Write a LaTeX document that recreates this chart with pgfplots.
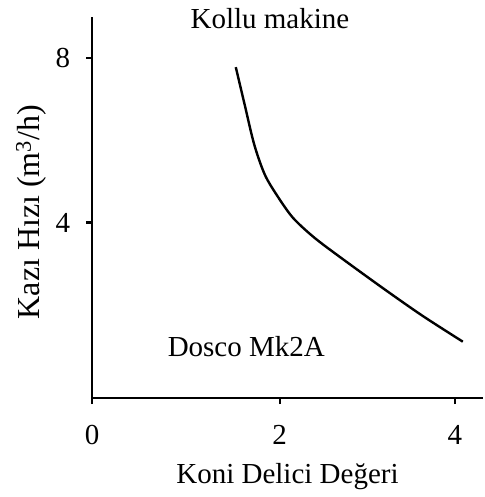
\documentclass[border=0pt]{standalone}
\usepackage{pgfplots}
\pgfplotsset{compat=1.18}
\usepackage{fontspec}
\setmainfont{Liberation Serif}
\begin{document}
\begin{tikzpicture}
\begin{axis}[
  name=ax,
  scale only axis,
  width=391pt, height=381pt,
  xmin=-0.14, xmax=4.32,
  ymin=-0.27, ymax=9.0,
  axis x line=bottom, axis y line=left,
  axis line style={-, line width=2.2pt},
  xtick={-0.14,2,4}, xticklabels={0,2,4},
  ytick={4,8},
  tick style={black, line width=2.2pt},
  tick align=outside,
  major tick length=6pt,
  tick label style={font=\fontsize{29}{33}\selectfont},
  xticklabel style={anchor=center, yshift=-31pt},
  yticklabel style={anchor=center, xshift=-23pt},
  /pgf/number format/assume math mode=true,
  xlabel={Koni Delici Değeri},
  ylabel={Kazı Hızı (m\textsuperscript{3}/h)},
  xlabel style={font=\fontsize{29}{33}\selectfont, at={(axis description cs:0.5,-0.207)}, anchor=center},
  ylabel style={font=\fontsize{32}{36}\selectfont, at={(axis description cs:-0.155,0.488)}, anchor=center},
  clip=false,
]
\addplot[black, line width=2.4pt, smooth, tension=0.5] coordinates {
(1.50,7.78) (1.60,6.88) (1.71,5.90) (1.83,5.17) (1.97,4.66) (2.15,4.12)
(2.38,3.66) (2.65,3.22) (3.18,2.40) (3.63,1.73) (4.09,1.10)
};
\node[font=\fontsize{29}{33}\selectfont] at (axis cs:1.89,8.95) {Kollu makine};
\node[font=\fontsize{29}{33}\selectfont] at (axis cs:1.62,0.98) {Dosco Mk2A};
\end{axis}
\path (ax.south west) ++(-92pt,-99pt) (ax.north east) ++(0pt,17pt);
\end{tikzpicture}
\end{document}
